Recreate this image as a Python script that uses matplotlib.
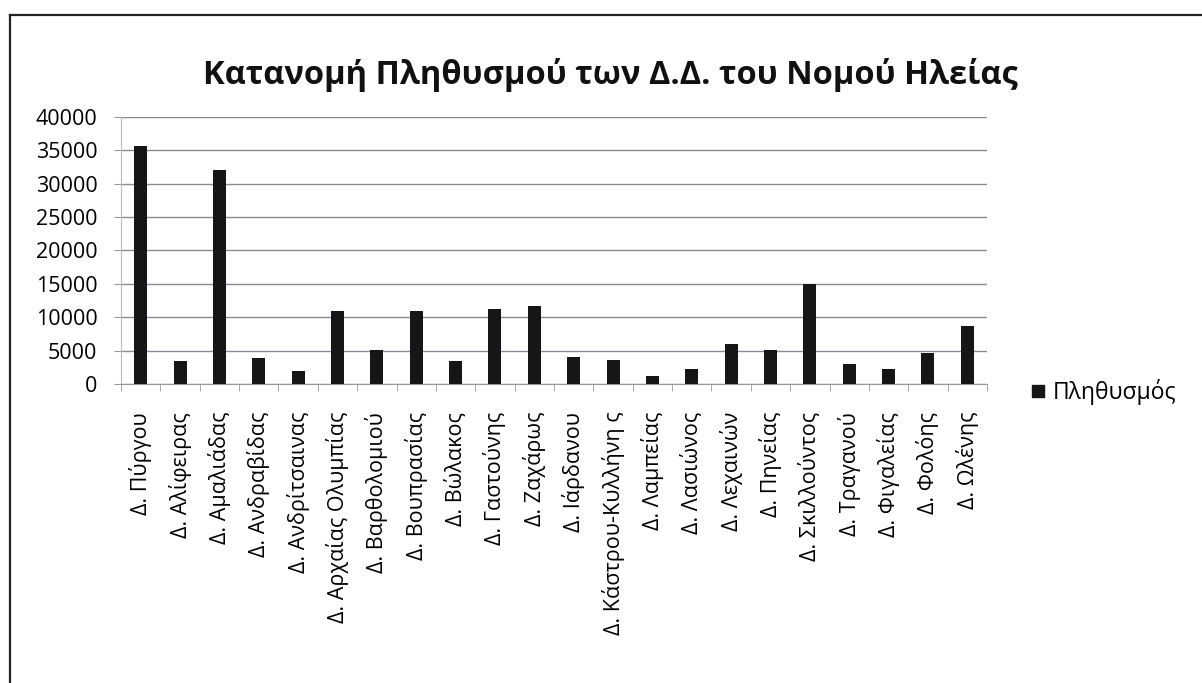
import matplotlib

matplotlib.use("Agg")
import matplotlib.pyplot as plt
from matplotlib.lines import Line2D
from matplotlib.ticker import FixedLocator

plt.rcParams["font.family"] = ["Open Sans", "DejaVu Sans"]

# Δημοτικά Διαμερίσματα του Νομού Ηλείας and population
municipalities = [
    "Δ. Πύργου", "Δ. Αλίφειρας", "Δ. Αμαλιάδας", "Δ. Ανδραβίδας",
    "Δ. Ανδρίτσαινας", "Δ. Αρχαίας Ολυμπίας", "Δ. Βαρθολομιού",
    "Δ. Βουπρασίας", "Δ. Βώλακος", "Δ. Γαστούνης", "Δ. Ζαχάρως",
    "Δ. Ιάρδανου", "Δ. Κάστρου-Κυλλήνη ς", "Δ. Λαμπείας", "Δ. Λασιώνος",
    "Δ. Λεχαινών", "Δ. Πηνείας", "Δ. Σκιλλούντος", "Δ. Τραγανού",
    "Δ. Φιγαλείας", "Δ. Φολόης", "Δ. Ωλένης",
]
population = [
    35600, 3500, 32000, 3950, 1950, 10900, 5150, 10900, 3500, 11250, 11650,
    4050, 3600, 1150, 2300, 6000, 5150, 15050, 2950, 2200, 4650, 8700,
]
y_ticks = [0, 5000, 10000, 15000, 20000, 25000, 30000, 35000, 40000]
series_name = "Πληθυσμός"
title = "Κατανομή Πληθυσμού των Δ.Δ. του Νομού Ηλείας"

fig = plt.figure(figsize=(12.02, 6.83), dpi=100, facecolor="white")
ax = fig.add_axes([0.1007, 0.4378, 0.7204, 0.3909])

x = list(range(len(municipalities)))
ax.bar(x, population, width=0.33, color="#161616", zorder=3)

ax.set_xlim(-0.5, len(municipalities) - 0.5)
ax.set_ylim(0, 40000)
ax.set_yticks(y_ticks)
ax.set_yticklabels([str(v) for v in y_ticks], fontsize=15.5)
ax.yaxis.grid(True, color="#8a8a95", linewidth=1.0, zorder=0)

ax.set_xticks(x)
ax.set_xticklabels(municipalities, rotation=90, fontsize=15.5, ha="center",
                   va="top")
ax.xaxis.set_minor_locator(FixedLocator([i + 0.5 for i in range(-1, len(x))]))
ax.tick_params(axis="x", which="major", length=0, pad=20)
ax.tick_params(axis="x", which="minor", length=5, color="#999999")
ax.tick_params(axis="y", length=5, color="#999999", pad=12)

for side in ("top", "right"):
    ax.spines[side].set_visible(False)
ax.spines["left"].set_color("#bbbbbb")
ax.spines["bottom"].set_color("#999999")

fig.text(0.508, 0.877, title, ha="center", va="baseline", fontsize=23.5,
         fontweight="bold", color="#111111")

handle = Line2D([], [], marker="s", linestyle="none", markersize=8,
                color="#161616")
fig.legend([handle], [series_name], loc="center left",
           bbox_to_anchor=(0.84, 0.426), frameon=False, fontsize=16.5,
           handletextpad=0.3, handlelength=0.7)

# outer chart frame (top and left edges visible in the scan)
fig.add_artist(Line2D([0.0085, 0.0085], [0.0, 0.978], color="#222222",
                      linewidth=1.6, transform=fig.transFigure))
fig.add_artist(Line2D([0.0085, 1.0], [0.978, 0.978], color="#222222",
                      linewidth=1.6, transform=fig.transFigure))

fig.savefig("out.png", dpi=100, facecolor="white")
